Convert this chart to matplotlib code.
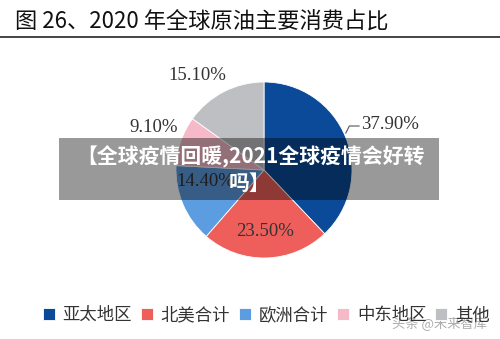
import numpy as np
import matplotlib
matplotlib.use("Agg")
import matplotlib.pyplot as plt
from matplotlib.patches import Rectangle
from matplotlib.lines import Line2D

plt.rcParams['font.family'] = ['Noto Sans CJK SC', 'DejaVu Sans']

regions = ["亚太地区", "北美合计", "欧洲合计", "中东地区", "其他"]
shares = [37.9, 23.5, 14.4, 9.1, 15.1]
labels = ["37.90%", "23.50%", "14.40%", "9.10%", "15.10%"]
colors = ["#0B4A98", "#EE5F5B", "#5C9CE0", "#F6B9C8", "#BEBFC3"]

# label placement: (radius factor, angle tweak in degrees)
label_pos = [(1.32, 4.0), (0.70, 0.0), (0.68, -12.0), (1.34, -2.0), (1.31, 8.0)]

fig = plt.figure(figsize=(5.0, 3.39), dpi=100)
fig.patch.set_facecolor("white")

# title and rule
fig.text(0.03, 0.935, "图 26、2020 年全球原油主要消费占比", fontsize=16,
         color="#111111", ha="left", va="center")
fig.add_artist(Line2D([0, 1], [0.89, 0.89], color="#444444", lw=1.4))

# pie
R = 88
cx, cy = 264, 339 - 170
ax = fig.add_axes([(cx - R) / 500, (cy - R) / 339, 2 * R / 500, 2 * R / 339])
wedges, _ = ax.pie(shares, colors=colors, startangle=90, counterclock=False,
                   radius=1.0, wedgeprops=dict(linewidth=0.6, edgecolor="white"))
ax.set_xlim(-1, 1)
ax.set_ylim(-1, 1)
ax.set_aspect("auto")
ax.axis("off")

for w, lab, (rf, tw) in zip(wedges, labels, label_pos):
    ang = np.deg2rad((w.theta1 + w.theta2) / 2 + tw)
    x, y = rf * np.cos(ang), rf * np.sin(ang)
    if lab == "37.90%":
        ax.plot([0.93, 0.97, 1.08], [0.42, 0.5, 0.5], color="#555555", lw=0.8,
                clip_on=False)
        ax.text(1.10, 0.52, lab, fontsize=13.5, family="Liberation Serif",
                color="#333333", ha="left", va="center")
    else:
        ax.text(x, y, lab, fontsize=13.5, family="Liberation Serif",
                color="#333333", ha="center", va="center")

# legend
fig.legend(wedges, regions, loc="center left", bbox_to_anchor=(0.085, 0.07),
           ncol=5, frameon=False, fontsize=12.5, handlelength=0.7,
           handleheight=0.7, handletextpad=0.45, columnspacing=0.5,
           labelcolor="#333333", borderpad=0, borderaxespad=0)

# overlay banner
fig.add_artist(Rectangle((59 / 500, 139 / 339), 380 / 500, 62 / 339,
                         transform=fig.transFigure, facecolor="black",
                         alpha=0.4, edgecolor="none"))
fig.text(0.5, 1 - 157 / 339, "【全球疫情回暖,2021全球疫情会好转", fontsize=15,
         fontweight="bold", color="white", ha="center", va="center")
fig.text(0.5, 1 - 183 / 339, "吗】", fontsize=15,
         fontweight="bold", color="white", ha="center", va="center")

# watermark
fig.text(0.975, 0.045, "头条 @未来智库", fontsize=9.5, color="#8a8a8a",
         alpha=0.7, ha="right", va="center")

fig.savefig("out.png", dpi=100, facecolor="white")
